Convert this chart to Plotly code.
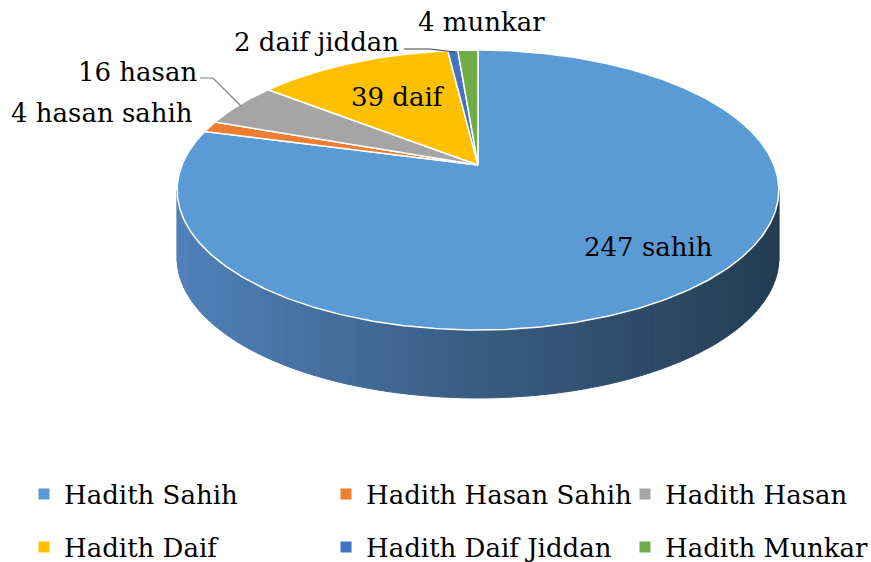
import numpy as np
import plotly.graph_objects as go

# ---- data ----
categories = ["Hadith Sahih", "Hadith Hasan Sahih", "Hadith Hasan",
              "Hadith Daif", "Hadith Daif Jiddan", "Hadith Munkar"]
values = [247, 4, 16, 39, 2, 4]
label_texts = ["247 sahih", "4 hasan sahih", "16 hasan", "39 daif", "2 daif jiddan", "4 munkar"]
colors = ["#5B9BD5", "#ED7D31", "#A5A5A5", "#FFC000", "#4472C4", "#70AD47"]

# ---- geometry of the 3D-looking pie (pixel space) ----
W, H = 871, 562
CX, CY = 478.0, 165.0      # apex (centre of the disc)
R, RY = 296.0, 135.5       # horizontal / vertical radius
K = 0.1786                 # perspective strength
DEPTH = 68.0               # thickness of the disc
FONT = "DejaVu Serif"
FSIZE = 26


def proj(theta):
    u, v = np.sin(theta), np.cos(theta)
    d = 1.0 / (1.0 + K * v)
    return CX + R * u * d, CY - RY * v * d


fig = go.Figure()

# ---- side wall (front visible part) with gradient ----
t0 = np.arccos(-K)
t1 = 2 * np.pi - t0
N = 120
edges = np.linspace(t0, t1, N + 1)
c_right = np.array([36, 60, 83])
c_mid = np.array([56, 93, 130])
c_left = np.array([80, 129, 185])
xmin, xmax = proj(t1)[0], proj(t0)[0]
for i in range(N):
    th = np.linspace(edges[i], edges[i + 1], 4)
    xs, ys = proj(th)
    px = np.concatenate([xs, xs[::-1], xs[:1]])
    py = np.concatenate([ys, ys[::-1] + DEPTH, ys[:1]])
    f = (xs.mean() - xmin) / (xmax - xmin)
    if f < 0.5:
        c = c_left + (c_mid - c_left) * (f / 0.5)
    else:
        c = c_mid + (c_right - c_mid) * ((f - 0.5) / 0.5)
    col = "rgb(%d,%d,%d)" % tuple(np.round(c).astype(int))
    fig.add_trace(go.Scatter(x=px, y=py, mode="lines", fill="toself",
                             fillcolor=col, line=dict(color=col, width=1),
                             hoverinfo="skip", showlegend=False))

# ---- top face slices ----
total = sum(values)
cum = np.concatenate([[0], np.cumsum(values)]) / total * 2 * np.pi
for i, (cat, val) in enumerate(zip(categories, values)):
    th = np.linspace(cum[i], cum[i + 1], max(6, int(val * 2)))
    xs, ys = proj(th)
    px = np.concatenate([[CX], xs, [CX]])
    py = np.concatenate([[CY], ys, [CY]])
    fig.add_trace(go.Scatter(x=px, y=py, mode="lines", fill="toself",
                             fillcolor=colors[i], line=dict(color="white", width=1.5),
                             name=cat, hoverinfo="name", showlegend=False))

# ---- legend entries (one legend per entry, laid out in a 3x2 grid) ----
legend_cols = [24, 326, 625]   # left edge of each legend column (px)
legend_rows = [494, 547]       # vertical centre of each legend row (px)
legend_layout = {}
for i, cat in enumerate(categories):
    key = "legend" if i == 0 else "legend%d" % (i + 1)
    fig.add_trace(go.Scatter(x=[None], y=[None], mode="markers", name=cat,
                             marker=dict(symbol="square", size=11, color=colors[i]),
                             legend=key))
    legend_layout[key] = dict(
        x=legend_cols[i % 3] / W, y=1 - legend_rows[i // 3] / H,
        xanchor="left", yanchor="middle", orientation="h",
        font=dict(family=FONT, size=FSIZE, color="black"),
        bgcolor="rgba(0,0,0,0)", itemclick=False, itemdoubleclick=False)

# ---- labels ----
label_pos = [(648, 247), (102, 113), (137, 72), (398, 97), (316, 42), (481, 22)]
for txt, (lx, ly) in zip(label_texts, label_pos):
    fig.add_annotation(x=lx, y=ly, text=txt, showarrow=False, xref="x", yref="y",
                       font=dict(family=FONT, size=FSIZE, color="black"))

# leader lines
fig.add_shape(type="path", path="M 200 78 L 213 78 L 241 106",
              line=dict(color="#7F7F7F", width=1.2), xref="x", yref="y")
fig.add_shape(type="path", path="M 404 49 L 430 49 L 455 52",
              line=dict(color="#404040", width=1.2), xref="x", yref="y")

fig.update_layout(
    width=W, height=H, margin=dict(l=0, r=0, t=0, b=0, autoexpand=False),
    paper_bgcolor="white", plot_bgcolor="white",
    xaxis=dict(range=[0, W], visible=False, fixedrange=True),
    yaxis=dict(range=[H, 0], visible=False, fixedrange=True),
    **legend_layout,
)

fig.write_html("out.html")
